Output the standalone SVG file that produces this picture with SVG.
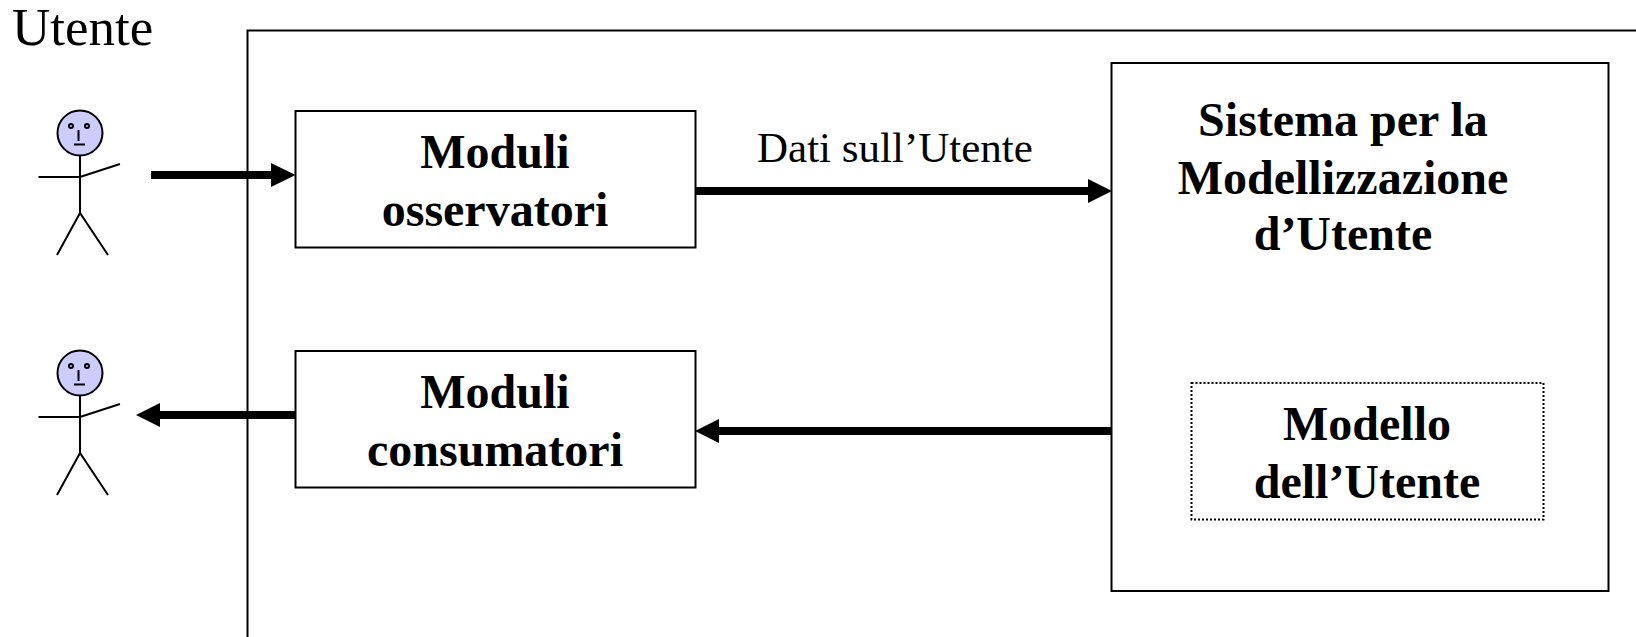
<svg xmlns="http://www.w3.org/2000/svg" xmlns:xlink="http://www.w3.org/1999/xlink" width="1636" height="637" viewBox="0 0 1636 637">
<style>
.box{fill:#fff;stroke:#000;stroke-width:2}
.dot{fill:none;stroke:#000;stroke-width:2;stroke-dasharray:2 2}
.t{font-family:"Liberation Serif","Times New Roman",serif;fill:#000}
.b{font-weight:bold;font-size:48px;text-anchor:middle}
.ln{fill:none;stroke:#000;stroke-width:2}
.th{fill:none;stroke:#000;stroke-width:8}
.face{fill:#ccccff;stroke:#000;stroke-width:2}
.eye{fill:#ccccff;stroke:#000;stroke-width:2}
</style>
<defs>
<g id="actor">
<path class="ln" d="M80 155V213M38.500 177H80L120 164M57 255L80 213L108 255"/>
<circle class="face" cx="80" cy="133" r="22.500"/>
<circle class="eye" cx="71" cy="126" r="2"/>
<circle class="eye" cx="87" cy="126" r="2"/>
<path class="ln" d="M78.500 130V141M74 144.500H85"/>
</g>
</defs>
<rect id="frame" x="247.500" y="30.500" width="1420" height="640" class="box"/>
<g id="node-moduli-osservatori">
<rect x="295.500" y="111" width="400" height="136.500" class="box"/>
<text class="t b" x="495" y="168">Moduli</text>
<text class="t b" x="495" y="225.500">osservatori</text>
</g>
<g id="node-moduli-consumatori">
<rect x="295.500" y="351" width="400" height="136.500" class="box"/>
<text class="t b" x="495" y="408">Moduli</text>
<text class="t b" x="495" y="465.500">consumatori</text>
</g>
<g id="node-sistema">
<rect x="1111.500" y="63" width="497" height="528" class="box"/>
<text class="t b" x="1343" y="136">Sistema per la</text>
<text class="t b" x="1343" y="194">Modellizzazione</text>
<text class="t b" x="1343" y="250">d’Utente</text>
</g>
<g id="node-modello">
<rect x="1191.500" y="383" width="352" height="136.500" class="dot"/>
<text class="t b" x="1367" y="440">Modello</text>
<text class="t b" x="1367" y="498">dell’Utente</text>
</g>
<g id="node-utente-1"><use xlink:href="#actor" href="#actor"/></g>
<g id="node-utente-2"><use xlink:href="#actor" href="#actor" y="240"/></g>
<text id="label-utente" class="t" x="12" y="44.500" font-size="53">Utente</text>
<text id="label-dati" class="t" x="757" y="162" font-size="43">Dati sull’Utente</text>
<g id="connectors">
<path class="th" d="M151 175H272"/><path d="M295.500 175L271 163V187Z"/>
<path class="th" d="M695 191H1088"/><path d="M1112 191L1088 179V203Z"/>
<path class="th" d="M1111 431H718"/><path d="M695 431L719 419V443Z"/>
<path class="th" d="M295 415H159"/><path d="M136 415L160 403V427Z"/>
</g>
</svg>
